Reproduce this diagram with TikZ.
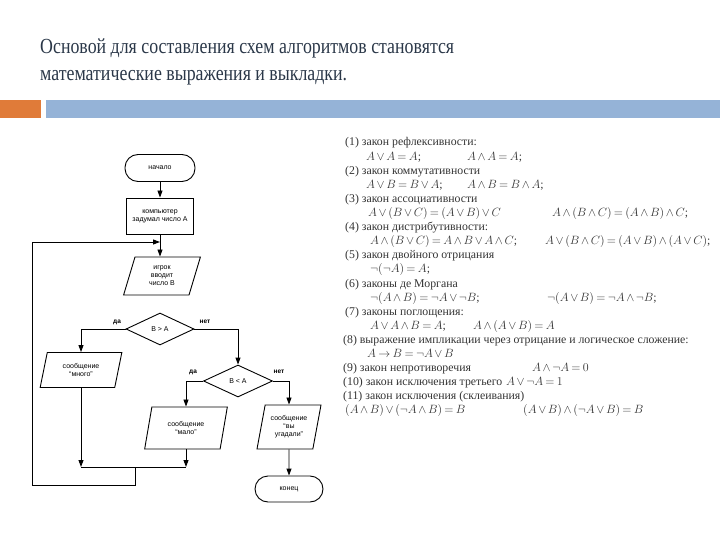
\documentclass[tikz,border=0pt]{standalone}
\usepackage{fontspec}
\setmainfont{Liberation Serif}
\setsansfont{Liberation Sans}
\newfontfamily\titlefont[FakeStretch=0.83]{Liberation Serif}
\definecolor{slideTitle}{HTML}{2A3748}
\definecolor{slideOrange}{HTML}{E07B39}
\definecolor{slideBlue}{HTML}{95B3D7}
\usetikzlibrary{
	arrows.meta,
	positioning,
	shapes.geometric
}
\tikzset{
	flow/.style={draw, line width=0.9pt, font=\sffamily\fontsize{7}{8}\selectfont, align=center, inner sep=1pt},
	term/.style={flow, rounded corners=13pt, minimum width=70pt, minimum height=27pt},
	proc/.style={flow, rectangle, minimum width=67pt, minimum height=36pt},
	io/.style={flow, trapezium, trapezium left angle=75, trapezium right angle=105, trapezium stretches=true},
	cond/.style={flow, diamond, inner sep=0pt},
	link/.style={line width=0.9pt},
	arr/.style={link, -{Triangle[length=7pt,width=5pt]}},
	lab/.style={font=\sffamily\bfseries\fontsize{6.5}{7}\selectfont},
	law/.style={anchor=base west, inner sep=0pt, font=\fontsize{11.8}{14}\selectfont, text=black!80,
		execute at begin node={\thickmuskip=3.5mu\medmuskip=2.5mu}},
	ttl/.style={anchor=base west, inner sep=0pt, font=\titlefont\fontsize{21.5}{27}\selectfont, text=slideTitle}
}
\begin{document}
\begin{tikzpicture}[x=1pt, y=-1pt]
	\useasboundingbox (0,0) rectangle (720,540);
	
	% Заголовок
	\node[ttl] (title1) at (40,54) {Основой для составления схем алгоритмов становятся};
	\node[ttl] (title2) at (40,81) {математические выражения и выкладки.};
	
	% Полосы
	\fill[slideOrange] (0,100) rectangle (41,118);
	\fill[slideBlue] (46,100) rectangle (720,118);
	
	% Блок-схема
	\node[term] (start) at (160,168) {начало};
	\node[proc] (think) at (160,216) {компьютер\\задумал число А};
	\node[io, minimum width=77pt, minimum height=38pt] (guess) at (162,276) {игрок\\вводит\\число В};
	\node[cond, minimum width=68pt, minimum height=32pt] (big) at (160,329) {B > A};
	\node[io, minimum width=82pt, minimum height=35pt] (many) at (81,370) {сообщение\\``много''};
	\node[cond, minimum width=69pt, minimum height=32pt] (small) at (238,381) {B < A};
	\node[io, minimum width=83pt, minimum height=42pt] (few) at (186,428) {сообщение\\``мало''};
	\node[io, minimum width=64pt, minimum height=44pt] (hit) at (289,427) {сообщение\\``вы\\угадали''};
	\node[term, minimum width=68pt, minimum height=26pt] (stop) at (289,489) {конец};
	
	% Подписи ветвей
	\node[lab] (yes1) at (117,322) {да};
	\node[lab] (no1) at (205,322) {нет};
	\node[lab] (yes2) at (193,372) {да};
	\node[lab] (no2) at (279,372) {нет};
	
	% Точки возврата
	\coordinate (joinM) at (135,467);
	\coordinate (loopL) at (32,485);
	\coordinate (entry) at (160,242);
	
	% Соединения
	\draw[arr] (start) -- (think);
	\draw[arr] (think) -- (think.south |- guess.north);
	\draw[arr] (big.west) -| (many.north);
	\draw[arr] (big.east) -| (small.north);
	\draw[arr] (small.west) -| (few.north);
	\draw[arr] (small.east) -| (hit.north);
	\draw[arr] (hit) -- (stop);
	\draw[arr] (many.south) -- (many.south |- joinM);
	\draw[arr] (few.south) -- (few.south |- joinM);
	\draw[link] (many.south |- joinM) -- (few.south |- joinM);
	\draw[arr] (joinM) |- (loopL) |- (entry);
	
	% Законы алгебры логики
	\node[law] (l1) at (345,146) {(1) закон рефлексивности:};
	\node[law] (f1a) at (366,160.1) {$A \vee A = A$;};
	\node[law] (f1b) at (467,160.1) {$A \wedge A = A$;};
	\node[law] (l2) at (345,174.2) {(2) закон коммутативности};
	\node[law] (f2a) at (366,188.3) {$A \vee B = B \vee A$;};
	\node[law] (f2b) at (467,188.3) {$A \wedge B = B \wedge A$;};
	\node[law] (l3) at (345,202.4) {(3) закон ассоциативности};
	\node[law] (f3a) at (368,216.5) {$A \vee (B \vee C) = (A \vee B) \vee C$};
	\node[law] (f3b) at (552,216.5) {$A \wedge (B \wedge C) = (A \wedge B) \wedge C$;};
	\node[law] (l4) at (345,230.6) {(4) закон дистрибутивности:};
	\node[law] (f4a) at (370,244.7) {$A \wedge (B \vee C) = A \wedge B \vee A \wedge C$;};
	\node[law] (f4b) at (545,244.7) {$A \vee (B \wedge C) = (A \vee B) \wedge (A \vee C)$;};
	\node[law] (l5) at (345,258.8) {(5) закон двойного отрицания};
	\node[law] (f5) at (370,272.9) {$\neg(\neg A) = A$;};
	\node[law] (l6) at (345,287) {(6) законы де Моргана};
	\node[law] (f6a) at (370,301.1) {$\neg(A \wedge B) = \neg A \vee \neg B$;};
	\node[law] (f6b) at (547,301.1) {$\neg(A \vee B) = \neg A \wedge \neg B$;};
	\node[law] (l7) at (345,315.2) {(7) законы поглощения:};
	\node[law] (f7a) at (370,329.3) {$A \vee A \wedge B = A$;};
	\node[law] (f7b) at (473,329.3) {$A \wedge (A \vee B) = A$};
	\node[law] (l8) at (343,343.4) {(8) выражение импликации через отрицание и логическое сложение:};
	\node[law] (f8) at (367,357.5) {$A \to B = \neg A \vee B$};
	\node[law] (l9) at (343,371.6) {(9) закон непротиворечия};
	\node[law] (f9) at (532,371.6) {$A \wedge \neg A = 0$};
	\node[law] (l10) at (343,385.7) {(10) закон исключения третьего};
	\node[law] (f10) at (506,385.7) {$A \vee \neg A = 1$};
	\node[law] (l11) at (343,399.8) {(11) закон исключения (склеивания)};
	\node[law] (f11a) at (345,413.9) {$(A \wedge B) \vee (\neg A \wedge B) = B$};
	\node[law] (f11b) at (523,413.9) {$(A \vee B) \wedge (\neg A \vee B) = B$};
	
\end{tikzpicture}
\end{document}
